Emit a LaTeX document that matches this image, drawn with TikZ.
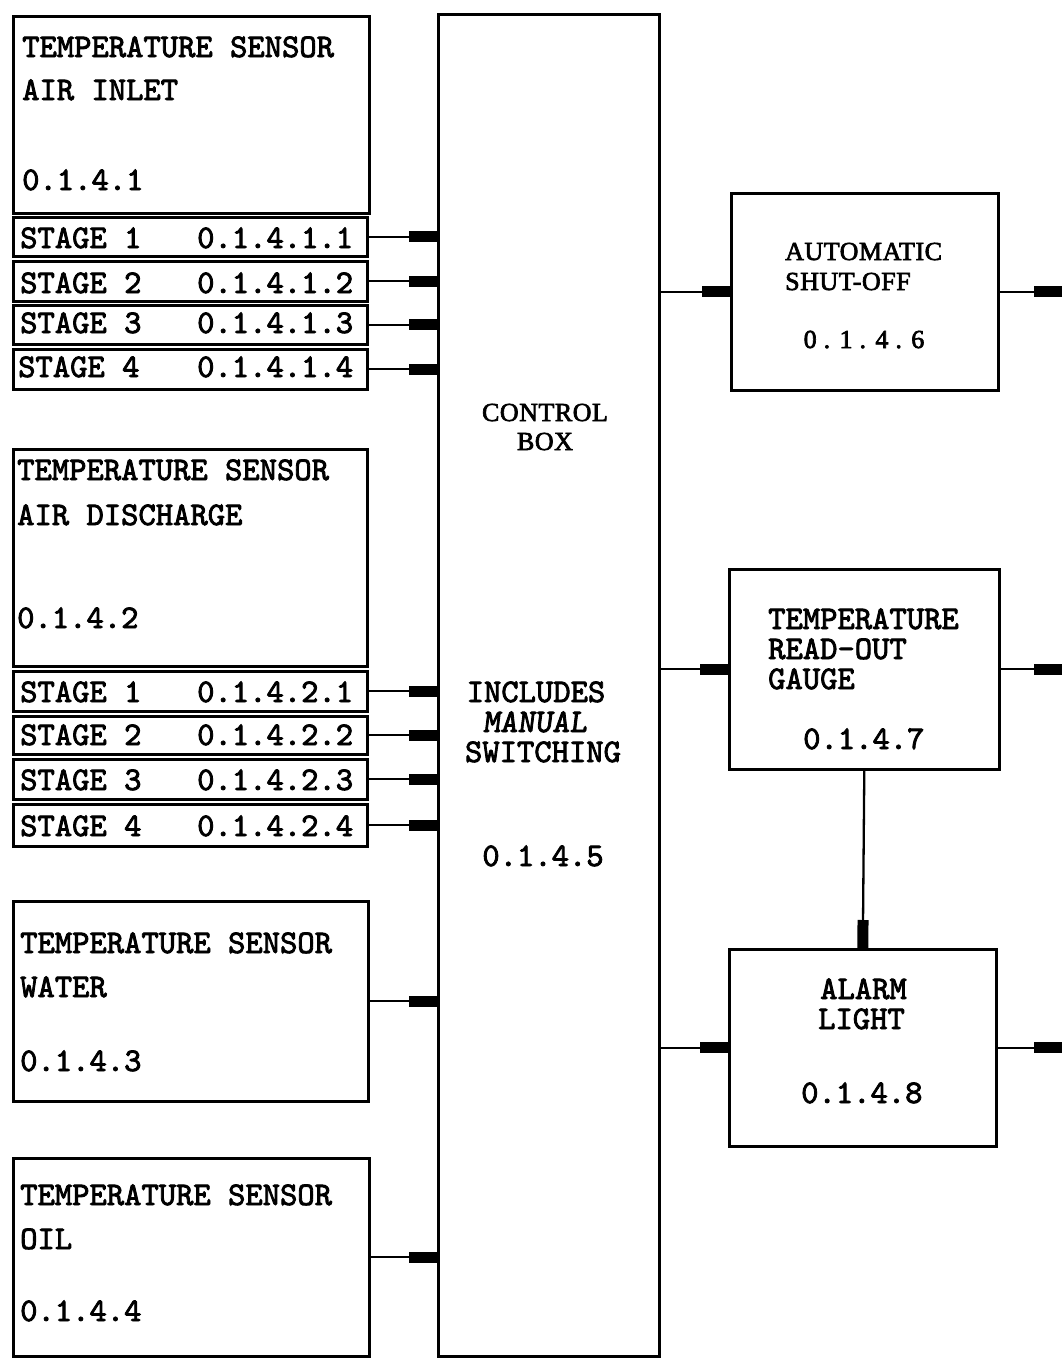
\documentclass[tikz,border=0pt]{standalone}
\usepackage{fontspec}
\usetikzlibrary{arrows.meta}
\newfontfamily\tsrfont{Liberation Serif}[LetterSpace=2,FakeBold=2.5]
\newfontfamily\twfont{lmmono10-regular.otf}[FakeBold=2.5]
\newfontfamily\twslfont{lmmono10-regular.otf}[FakeBold=2.5,FakeSlant=0.12]
\tikzset{
  box/.style={draw, line width=2.6pt, inner sep=0pt, anchor=north west},
  conn/.style={line width=2.3pt, -{Rectangle[length=28pt,width=11pt]}},
  tw/.style={font=\twfont\fontsize{33}{36}\selectfont, inner sep=0pt, anchor=base west},
  twc/.style={tw, anchor=base},
  sr/.style={font=\tsrfont\fontsize{26}{30}\selectfont, inner sep=0pt, anchor=base west},
  src/.style={sr, anchor=base}
}
\begin{document}
\begin{tikzpicture}[x=1pt,y=-1pt]
\useasboundingbox (0,0) rectangle (1062,1363);
\fill[white] (0,0) rectangle (1062,1363);
\coordinate (edge) at (1062,0);
% left boxes
\node[box, minimum width=356pt, minimum height=197pt] (a1) at (12,15) {};
\node[box, minimum width=354pt, minimum height=39pt] (a11) at (12,216) {};
\node[box, minimum width=354pt, minimum height=40pt] (a12) at (12,260) {};
\node[box, minimum width=354pt, minimum height=39pt] (a13) at (12,304) {};
\node[box, minimum width=354pt, minimum height=40pt] (a14) at (12,348) {};
\node[box, minimum width=354pt, minimum height=217pt] (b1) at (12,448) {};
\node[box, minimum width=354pt, minimum height=40pt] (b11) at (12,670) {};
\node[box, minimum width=354pt, minimum height=38pt] (b12) at (12,715) {};
\node[box, minimum width=354pt, minimum height=40pt] (b13) at (12,758) {};
\node[box, minimum width=354pt, minimum height=42pt] (b14) at (12,803) {};
\node[box, minimum width=355pt, minimum height=200pt] (c1) at (12,900) {};
\node[box, minimum width=356pt, minimum height=198pt] (d1) at (12,1157) {};
% control box
\node[box, minimum width=221pt, minimum height=1342pt] (ctrl) at (437,13) {};
% right boxes
\node[box, minimum width=267pt, minimum height=197pt] (auto) at (730,192) {};
\node[box, minimum width=270pt, minimum height=200pt] (gauge) at (728,568) {};
\node[box, minimum width=267pt, minimum height=197pt] (alarm) at (728,948) {};
% texts left
\node[tw] (ta1) at (22,57) {TEMPERATURE SENSOR};
\node[tw] (ta2) at (22,100) {AIR INLET};
\node[tw] (ta3) at (22,190) {0.1.4.1};
\node[tw] (ts11) at (20,248) {STAGE 1};
\node[tw] (tn11) at (197,248) {0.1.4.1.1};
\node[tw] (ts12) at (20,293) {STAGE 2};
\node[tw] (tn12) at (197,293) {0.1.4.1.2};
\node[tw] (ts13) at (20,333) {STAGE 3};
\node[tw] (tn13) at (197,333) {0.1.4.1.3};
\node[tw] (ts14) at (18,377) {STAGE 4};
\node[tw] (tn14) at (197,377) {0.1.4.1.4};
\node[tw] (tb1) at (17,480) {TEMPERATURE SENSOR};
\node[tw] (tb2) at (17,525) {AIR DISCHARGE};
\node[tw] (tb3) at (17,628) {0.1.4.2};
\node[tw] (ts21) at (20,702) {STAGE 1};
\node[tw] (tn21) at (197,702) {0.1.4.2.1};
\node[tw] (ts22) at (20,745) {STAGE 2};
\node[tw] (tn22) at (197,745) {0.1.4.2.2};
\node[tw] (ts23) at (20,790) {STAGE 3};
\node[tw] (tn23) at (197,790) {0.1.4.2.3};
\node[tw] (ts24) at (20,836) {STAGE 4};
\node[tw] (tn24) at (197,836) {0.1.4.2.4};
\node[tw] (tc1) at (20,953) {TEMPERATURE SENSOR};
\node[tw] (tc2) at (20,997) {WATER};
\node[tw] (tc3) at (20,1071) {0.1.4.3};
\node[tw] (td1) at (20,1205) {TEMPERATURE SENSOR};
\node[tw] (td2) at (20,1249) {OIL};
\node[tw] (td3) at (20,1321) {0.1.4.4};
% control texts
\node[src] (tk1) at (545,421) {CONTROL};
\node[src] (tk2) at (545,450) {BOX};
\node[twc] (tk3) at (536,702) {INCLUDES};
\node[twc, font=\twslfont\fontsize{33}{36}\selectfont] (tk4) at (535,732) {MANUAL};
\node[twc] (tk5) at (543,762) {SWITCHING};
\node[twc] (tk6) at (543,866) {0.1.4.5};
% right texts
\node[sr] (te1) at (785,260) {AUTOMATIC};
\node[sr] (te2) at (785,290) {SHUT-OFF};
\node[src] (te3) at (864,348) {0 . 1 . 4 . 6};
\node[tw] (tf1) at (768,629) {TEMPERATURE};
\node[tw] (tf2) at (768,659) {READ-OUT};
\node[tw] (tf3) at (768,689) {GAUGE};
\node[tw] (tf4) at (803,749) {0.1.4.7};
\node[tw] (tg1) at (820,999) {ALARM};
\node[tw] (tg2) at (818,1029) {LIGHT};
\node[tw] (tg3) at (801,1103) {0.1.4.8};
% connectors
\foreach \n in {a11,a12,a13,a14,b11,b12,b13,b14,c1,d1}
  \draw[conn] (\n.east) -- (\n.east -| ctrl.west);
\foreach \n in {auto,gauge,alarm}{
  \draw[conn] (\n.west -| ctrl.east) -- (\n.west);
  \draw[conn] (\n.east) -- (\n.east -| edge);
}
\draw[conn] (gauge.south) -- (alarm.north);
\end{tikzpicture}
\end{document}
